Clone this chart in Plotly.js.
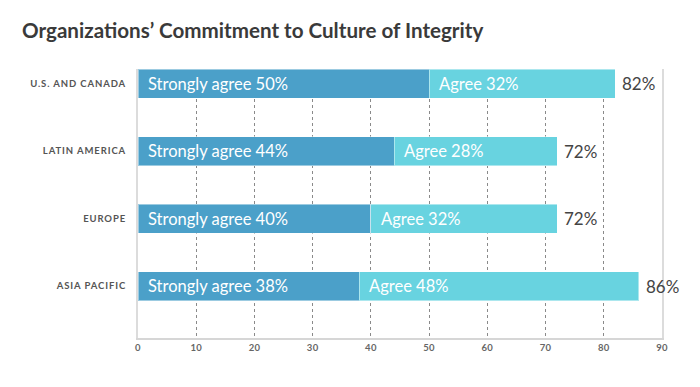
<!DOCTYPE html>
<html>
<head>
<meta charset="utf-8">
<script src="https://cdn.plot.ly/plotly-3.0.1.min.js"></script>
<style>
html,body{margin:0;padding:0;background:#fff;}
#chart{width:700px;height:387px;}
#chart .ytick text{letter-spacing:0.9px;}
#chart .xtick text{letter-spacing:0.3px;}
</style>
</head>
<body>
<div id="chart"></div>
<script>
var regions = ["ASIA PACIFIC", "EUROPE", "LATIN AMERICA", "U.S. AND CANADA"];
var stronglyAgree = [38, 40, 44, 50];
var agree = [48, 32, 28, 32];
var xTicks = [0, 10, 20, 30, 40, 50, 60, 70, 80, 90];

var FONT = "Lato, Open Sans, sans-serif";
var totals = regions.map(function (r, i) { return stronglyAgree[i] + agree[i]; });

var traces = [
  {
    type: "bar", orientation: "h", name: "Strongly agree",
    y: regions, x: stronglyAgree, width: 0.43,
    marker: { color: "#4ba0c9", line: { color: "rgba(255,255,255,0.45)", width: 1 } },
    hoverinfo: "none"
  },
  {
    type: "bar", orientation: "h", name: "Agree",
    y: regions, x: agree, width: 0.43,
    marker: { color: "#68d3e0", line: { color: "rgba(255,255,255,0.45)", width: 1 } },
    hoverinfo: "none"
  }
];

var annotations = [];
regions.forEach(function (r, i) {
  annotations.push({
    x: 0, y: r, xref: "x", yref: "y", xanchor: "left", yanchor: "middle",
    xshift: 8, showarrow: false, text: "Strongly agree " + stronglyAgree[i] + "%",
    font: { family: FONT, size: 16.5, color: "#ffffff" }
  });
  annotations.push({
    x: stronglyAgree[i], y: r, xref: "x", yref: "y", xanchor: "left", yanchor: "middle",
    xshift: 8, showarrow: false, text: "Agree " + agree[i] + "%",
    font: { family: FONT, size: 16.5, color: "#ffffff" }
  });
  annotations.push({
    x: totals[i], y: r, xref: "x", yref: "y", xanchor: "left", yanchor: "middle",
    xshift: 5, showarrow: false, text: totals[i] + "%",
    font: { family: FONT, size: 17, color: "#444444" }
  });
});

var layout = {
  width: 700, height: 387,
  margin: { l: 138, r: 38, t: 69, b: 49 },
  paper_bgcolor: "#ffffff", plot_bgcolor: "#ffffff",
  barmode: "stack",
  showlegend: false,
  title: {
    text: "Organizations’ Commitment to Culture of Integrity",
    x: 0, xref: "container", xanchor: "left", y: 1, yref: "container", yanchor: "top",
    pad: { t: 24, l: 22 }, automargin: false,
    font: { family: FONT, size: 20.6, color: "#3a3a3a", weight: 700 }
  },
  xaxis: {
    range: [0, 90], tickvals: xTicks, ticktext: xTicks.map(String),
    showgrid: true, gridcolor: "#8a8a8a", griddash: "3px,3px", gridwidth: 1,
    zeroline: false, showline: true, linecolor: "#d6d6d6", linewidth: 2,
    ticks: "", tickfont: { family: FONT, size: 9.5, color: "#666666", weight: 700 },
    fixedrange: true
  },
  yaxis: {
    type: "category", categoryorder: "array", categoryarray: regions,
    range: [-0.77, 3.216],
    showgrid: false, zeroline: false, showline: true, mirror: true,
    linecolor: "#dcdcdc", linewidth: 2, ticks: "", ticklabelstandoff: 8,
    tickfont: { family: FONT, size: 9.5, color: "#555555", weight: 700 },
    fixedrange: true
  },
  annotations: annotations
};

Plotly.newPlot("chart", traces, layout, { displayModeBar: false, staticPlot: true });
</script>
</body>
</html>
